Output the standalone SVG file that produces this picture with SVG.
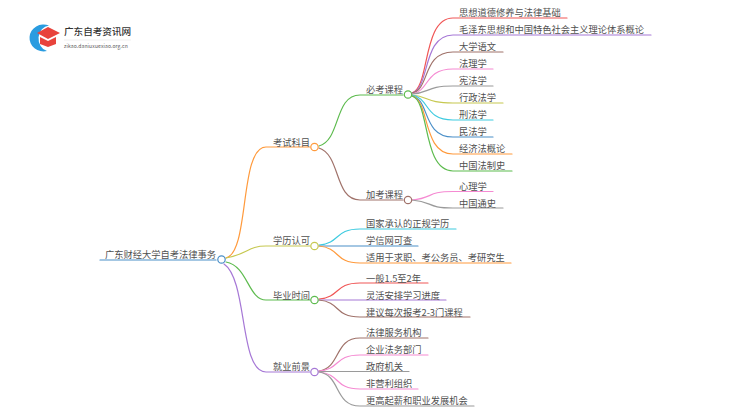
<svg xmlns="http://www.w3.org/2000/svg" width="750" height="410" viewBox="0 0 750 410">
<style>
text{font-family:"Noto Sans CJK SC","Noto Sans",sans-serif;font-size:9.25px;fill:#505050}
.l{fill:none;stroke-width:1.2;stroke-linecap:round}
.n{fill:#fff;stroke-width:1.2}
.r{stroke:#f05656}.v{stroke:#a678d6}.b{stroke:#a0726a}.p{stroke:#f58ad2}.g{stroke:#9a9a9a}.y{stroke:#c6c850}.c{stroke:#3ecbe0}.s{stroke:#4a8fc8}.o{stroke:#ff9a3c}.e{stroke:#5dbb4e}
</style>
<g id="logo">
<path d="M49 25.500A14 13.500 0 1 0 47 51A11.500 13 0 0 1 49 25.500Z" fill="#2a9ce0"/>
<path d="M37 33L48 27L60 33L48 39Z" fill="#e8433c"/>
<path d="M40 37L48 41L56 37V44L48 47L40 44Z" fill="#e8433c"/>
<text x="64" y="35" style="font-size:9.6px;font-weight:500;fill:#333">广东自考资讯网</text>
<path d="M64 40H131" stroke="#e4e4e4" stroke-width=".6"/>
<text x="64" y="48" style="font-size:5px;letter-spacing:.12px;fill:#555">zikao.daniuxuexiao.org.cn</text>
</g>
<g id="connectors">
<path class="l s" d="M100 260H216"/>
<path class="l o" d="M226 258C250 252 239 147 266 147H310"/>
<path class="l y" d="M226 258C248 254 248 246 266 246H310"/>
<path class="l e" d="M226 262C248 266 248 300 266 300H310"/>
<path class="l v" d="M224 264C248 280 239 372 266 372H310"/>
<path class="l e" d="M319 146C341 140 334 95 360 95H403"/>
<path class="l b" d="M319 148C341 155 334 200 360 200H403"/>
<g>
<path class="l r" d="M412 93C430 88 422 18 453 18H567"/>
<path class="l v" d="M412 93C430 89 422 35 453 35H651"/>
<path class="l b" d="M412 93C430 90 422 52 453 52H503"/>
<path class="l p" d="M412 94C430 91 424 69 453 69H493"/>
<path class="l g" d="M412 94C430 93 426 86 453 86H493"/>
<path class="l y" d="M412 95C430 97 426 103 453 103H503"/>
<path class="l c" d="M412 95C430 98 424 120 453 120H493"/>
<path class="l s" d="M412 96C430 99 422 137 453 137H493"/>
<path class="l o" d="M412 96C430 100 422 154 453 154H512"/>
<path class="l e" d="M412 96C430 101 422 171 453 171H512"/>
<path class="l p" d="M412 200C434 198 426 191.500 453 191.500H493"/>
<path class="l g" d="M412 200C434 202 426 208 453 208H503"/>
<path class="l c" d="M319 245C341 243 334 229 360 229H456"/>
<path class="l s" d="M319 246H418"/>
<path class="l o" d="M319 246C341 248 334 263 360 263H511"/>
<path class="l r" d="M319 299C341 297 334 283 360 283H428"/>
<path class="l v" d="M319 300H446"/>
<path class="l b" d="M319 300C341 302 334 317 360 317H470"/>
<path class="l b" d="M319 371C341 368 334 338 360 338H428"/>
<path class="l p" d="M319 371C341 369 334 355 360 355H428"/>
<path class="l g" d="M319 371.500H409"/>
<path class="l p" d="M319 372C341 374 334 389 360 389H418"/>
<path class="l g" d="M319 372C341 375 334 406 360 406H474"/>
</g>
</g>
<g id="root"><circle class="n s" cx="221.500" cy="259.500" r="3.700"/><text x="105" y="257.500">广东财经大学自考法律事务</text></g>
<g id="n1"><circle class="n o" cx="314.500" cy="147" r="3.700"/><text x="273" y="145.500">考试科目</text></g>
<g id="n2"><circle class="n y" cx="314.500" cy="246" r="3.700"/><text x="273" y="243.500">学历认可</text></g>
<g id="n3"><circle class="n e" cx="314.500" cy="300" r="3.700"/><text x="273" y="298.500">毕业时间</text></g>
<g id="n4"><circle class="n v" cx="314.500" cy="372" r="3.700"/><text x="273" y="369.500">就业前景</text></g>
<g id="n5"><circle class="n e" cx="408" cy="94.500" r="3.700"/><text x="366" y="92.500">必考课程</text></g>
<g id="n6"><circle class="n b" cx="408" cy="200" r="3.700"/><text x="366" y="197.500">加考课程</text></g>
<g id="leaves">
<text x="459" y="16">思想道德修养与法律基础</text>
<text x="459" y="33">毛泽东思想和中国特色社会主义理论体系概论</text>
<text x="459" y="50">大学语文</text>
<text x="459" y="67">法理学</text>
<text x="459" y="84">宪法学</text>
<text x="459" y="101">行政法学</text>
<text x="459" y="118">刑法学</text>
<text x="459" y="135">民法学</text>
<text x="459" y="152">经济法概论</text>
<text x="459" y="169">中国法制史</text>
<text x="459" y="189.500">心理学</text>
<text x="459" y="206.500">中国通史</text>
<text x="366" y="226.500">国家承认的正规学历</text>
<text x="366" y="244">学信网可查</text>
<text x="366" y="261">适用于求职、考公务员、考研究生</text>
<text x="366" y="281.500">一般1.5至2年</text>
<text x="366" y="298.500">灵活安排学习进度</text>
<text x="366" y="315.500">建议每次报考2-3门课程</text>
<text x="366" y="336">法律服务机构</text>
<text x="366" y="353">企业法务部门</text>
<text x="366" y="370">政府机关</text>
<text x="366" y="387">非营利组织</text>
<text x="366" y="404">更高起薪和职业发展机会</text>
</g>
</svg>
